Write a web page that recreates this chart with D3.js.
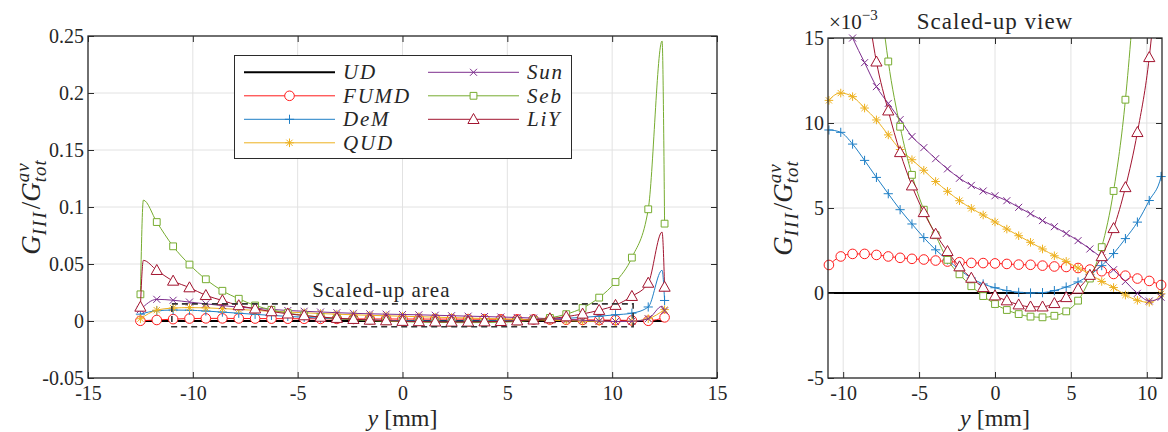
<!DOCTYPE html>
<html>
<head>
<meta charset="utf-8">
<script src="https://cdn.jsdelivr.net/npm/d3@7"></script>
<style>
  body { margin: 0; background: #fff; }
</style>
</head>
<body>
<svg id="chart" width="1168" height="432"></svg>
<script>
// Sample positions along the width, y [mm]
const yPos = [-12.5, -11.72, -10.94, -10.16, -9.38, -8.59, -7.81, -7.03, -6.25, -5.47, -4.69,
  -3.91, -3.13, -2.34, -1.56, -0.78, 0, 0.78, 1.56, 2.34, 3.13, 3.91, 4.69, 5.47, 6.25,
  7.03, 7.81, 8.59, 9.38, 10.16, 10.94, 11.72, 12.5];
// Positions of the narrow edge spikes (line only, no marker)
const edgePos = [-12.36, 12.38];

// G_III / G_tot^av, in units of 1e-3
const udVals = [0, 0, 0, 0, 0, 0, 0, 0, 0, 0, 0, 0, 0, 0, 0, 0, 0, 0, 0, 0, 0, 0, 0, 0, 0, 0, 0, 0, 0, 0, 0, 0, 0];
const fumdVals = [0.2, 0.9, 1.65, 2.15, 2.30, 2.30, 2.24, 2.15, 2.07, 2.01, 1.97, 1.91, 1.85, 1.81, 1.77, 1.76,
  1.74, 1.71, 1.67, 1.66, 1.61, 1.56, 1.53, 1.47, 1.38, 1.28, 1.12, 1.02, 0.85, 0.71, 0.47, 0.2, 3.2];
const demVals = [6.0, 9.0, 9.59, 9.45, 8.76, 7.80, 6.80, 5.84, 4.90, 4.06, 3.26, 2.54, 1.95, 1.37, 0.88, 0.53,
  0.31, 0.14, 0.04, 0.0, 0.02, 0.14, 0.35, 0.65, 1.07, 1.61, 2.32, 3.2, 4.17, 5.44, 6.85, 12.3, 18.0];
const qudVals = [2.0, 9.5, 11.33, 11.76, 11.55, 10.88, 10.18, 9.30, 8.44, 7.84, 7.22, 6.56, 5.98, 5.43, 4.98, 4.59,
  4.18, 3.76, 3.37, 2.98, 2.59, 2.19, 1.86, 1.47, 1.12, 0.68, 0.32, -0.12, -0.43, -0.55, -0.05, 2.0, 10.0];
const sunVals = [10.0, 19.0, 18.2, 16.6, 15.0, 13.55, 12.14, 11.15, 10.2, 9.2, 8.55, 7.9, 7.3, 6.75, 6.33, 6.0,
  5.72, 5.43, 5.04, 4.66, 4.26, 3.9, 3.5, 3.08, 2.59, 2.06, 1.37, 0.68, -0.02, -0.47, -0.25, 2.0, 9.0];
const sebVals = [23.4, 86.8, 65.5, 49.5, 36.6, 26.5, 19.5, 13.62, 9.78, 6.95, 4.9, 3.4, 1.95, 1.1, 0.4, -0.18,
  -0.65, -1.0, -1.24, -1.39, -1.43, -1.34, -1.08, -0.45, 0.85, 2.7, 6.0, 11.37, 20.5, 34.2, 55.6, 98.0, 85.4];
const liyVals = [12.3, 44.5, 35.1, 29.3, 22.5, 18.0, 13.6, 10.72, 8.27, 6.31, 4.74, 3.47, 2.45, 1.55, 0.88, 0.33,
  -0.16, -0.45, -0.69, -0.81, -0.81, -0.61, -0.26, 0.24, 1.05, 2.15, 3.8, 6.21, 9.45, 13.86, 21.7, 33.3, 29.8];

// Spike heights at edgePos (null = no spike)
const demEdge = [null, 44.5];
const sunEdge = [null, 13.0];
const sebEdge = [106.0, 245.6];
const liyEdge = [53.2, 78.0];
const noEdge = [null, null];

const seriesNames = ["UD", "FUMD", "DeM", "QUD", "Sun", "Seb", "LiY"];
const seriesVals = [udVals, fumdVals, demVals, qudVals, sunVals, sebVals, liyVals];
const seriesEdge = [noEdge, noEdge, demEdge, noEdge, sunEdge, sebEdge, liyEdge];
const seriesColors = ["#000000", "#ff1a1a", "#1f7fc6", "#edb120", "#7e2f8e", "#77ac30", "#a2142f"];
const seriesMarkers = ["none", "circle", "plus", "asterisk", "times", "square", "triangle"];

// Axis ticks
const leftXTicks = [-15, -10, -5, 0, 5, 10, 15];
const leftXLabels = ["-15", "-10", "-5", "0", "5", "10", "15"];
const leftYTicks = [-50, 0, 50, 100, 150, 200, 250];
const leftYLabels = ["-0.05", "0", "0.05", "0.1", "0.15", "0.2", "0.25"];
const rightXTicks = [-10, -5, 0, 5, 10];
const rightXLabels = ["-10", "-5", "0", "5", "10"];
const rightYTicks = [-5, 0, 5, 10, 15];
const rightYLabels = ["-5", "0", "5", "10", "15"];

const FONT = "'Liberation Serif', 'Times New Roman', serif";
const svg = d3.select("#chart");
const ink = "#2b2b2b";
const gridCol = "#e2e2e2";

function markerPath(type) {
  switch (type) {
    case "circle": return "M4.8,0A4.8,4.8 0 1,1 -4.8,0A4.8,4.8 0 1,1 4.8,0Z";
    case "plus": return "M-4.6,0H4.6M0,-4.6V4.6";
    case "asterisk": return "M-4.3,0H4.3M0,-4.3V4.3M-3.1,-3.1L3.1,3.1M-3.1,3.1L3.1,-3.1";
    case "times": return "M-3.5,-3.5L3.5,3.5M-3.5,3.5L3.5,-3.5";
    case "square": return "M-3.4,-3.4H3.4V3.4H-3.4Z";
    case "triangle": return "M0,-5.8L5.6,4.2H-5.6Z";
  }
  return "";
}
function markerFill(type) {
  return (type === "circle" || type === "square" || type === "triangle") ? "#fff" : "none";
}

function styleAxis(sel, fs) {
  sel.select(".domain").remove();
  sel.selectAll(".tick line").attr("stroke", ink).attr("stroke-width", 1);
  sel.selectAll(".tick text").attr("font-size", fs).attr("fill", ink);
  sel.attr("font-family", null).attr("font-size", null);
}

function drawPanel(cfg) {
  const g = svg.append("g");
  const x = d3.scaleLinear().domain(cfg.xDomain).range([cfg.left, cfg.right]);
  const y = d3.scaleLinear().domain(cfg.yDomain).range([cfg.bottom, cfg.top]);

  // grid
  const grid = g.append("g");
  grid.selectAll("line.gx").data(cfg.xTicks).join("line")
    .attr("x1", d => x(d)).attr("x2", d => x(d))
    .attr("y1", cfg.top).attr("y2", cfg.bottom)
    .attr("stroke", gridCol).attr("stroke-width", 1);
  grid.selectAll("line.gy").data(cfg.yTicks).join("line")
    .attr("y1", d => y(d)).attr("y2", d => y(d))
    .attr("x1", cfg.left).attr("x2", cfg.right)
    .attr("stroke", gridCol).attr("stroke-width", 1);

  // data
  const clipId = "clip-" + cfg.id;
  svg.append("clipPath").attr("id", clipId).append("rect")
    .attr("x", cfg.left).attr("y", cfg.top)
    .attr("width", cfg.right - cfg.left).attr("height", cfg.bottom - cfg.top);

  const line = d3.line().x(d => x(d[0])).y(d => y(d[1])).curve(d3.curveMonotoneX);
  const xd = x.domain(), yd = y.domain();

  seriesVals.forEach((vals, k) => {
    const pts = yPos.map((p, i) => [p, vals[i]]);
    seriesEdge[k].forEach((v, j) => { if (v !== null) pts.push([edgePos[j], v]); });
    pts.sort((a, b) => a[0] - b[0]);
    g.append("path")
      .attr("d", line(pts))
      .attr("fill", "none")
      .attr("stroke", seriesColors[k])
      .attr("stroke-width", k === 0 ? 2 : 1)
      .attr("clip-path", `url(#${clipId})`);

    if (seriesMarkers[k] !== "none") {
      const mk = yPos.map((p, i) => [p, vals[i]])
        .filter(d => d[0] >= xd[0] && d[0] <= xd[1] && d[1] >= yd[0] && d[1] <= yd[1]);
      g.append("g").selectAll("path").data(mk).join("path")
        .attr("transform", d => `translate(${x(d[0])},${y(d[1])})`)
        .attr("d", markerPath(seriesMarkers[k]))
        .attr("fill", markerFill(seriesMarkers[k]))
        .attr("stroke", seriesColors[k])
        .attr("stroke-width", 1);
    }
  });

  // axes with inward ticks on all four sides
  const fs = 20;
  const bottom = g.append("g").attr("transform", `translate(0,${cfg.bottom})`)
    .call(d3.axisBottom(x).tickValues(cfg.xTicks).tickSize(-6).tickSizeOuter(0).tickPadding(8)
      .tickFormat((d, i) => cfg.xLabels[i]));
  styleAxis(bottom, fs);
  const leftAx = g.append("g").attr("transform", `translate(${cfg.left},0)`)
    .call(d3.axisLeft(y).tickValues(cfg.yTicks).tickSize(-6).tickSizeOuter(0).tickPadding(4)
      .tickFormat((d, i) => cfg.yLabels[i]));
  styleAxis(leftAx, fs);
  const topAx = g.append("g").attr("transform", `translate(0,${cfg.top})`)
    .call(d3.axisTop(x).tickValues(cfg.xTicks).tickSize(-6).tickSizeOuter(0).tickFormat(() => ""));
  styleAxis(topAx, fs);
  const rightAx = g.append("g").attr("transform", `translate(${cfg.right},0)`)
    .call(d3.axisRight(y).tickValues(cfg.yTicks).tickSize(-6).tickSizeOuter(0).tickFormat(() => ""));
  styleAxis(rightAx, fs);

  g.append("rect")
    .attr("x", cfg.left).attr("y", cfg.top)
    .attr("width", cfg.right - cfg.left).attr("height", cfg.bottom - cfg.top)
    .attr("fill", "none").attr("stroke", ink).attr("stroke-width", 1.3);

  // x label: y [mm]
  const xl = g.append("text")
    .attr("x", (cfg.left + cfg.right) / 2).attr("y", 426)
    .attr("text-anchor", "middle").attr("font-size", 24);
  xl.append("tspan").attr("font-style", "italic").text("y");
  xl.append("tspan").text(" [mm]");

  // y label: G_III / G_tot^av
  const yl = g.append("g").attr("transform", `translate(${cfg.yLabelX},${(cfg.top + cfg.bottom) / 2}) rotate(-90)`);
  const L = 27;
  const t = yl.append("text").attr("text-anchor", "middle").attr("font-size", L).style("font-family", FONT);
  t.append("tspan").attr("font-style", "italic").text("G");
  t.append("tspan").attr("font-style", "italic").attr("font-size", L * 0.7).attr("dy", L * 0.22).attr("letter-spacing", 2).text("III");
  t.append("tspan").attr("dy", -L * 0.22).attr("dx", 1).text("/");
  t.append("tspan").attr("font-style", "italic").text("G");
  const sup = t.append("tspan").attr("font-style", "italic").attr("font-size", L * 0.7).attr("dy", -L * 0.42).attr("letter-spacing", 1).text("av");
  t.selectAll("tspan").style("font-family", FONT);
  const supW = sup.node().getComputedTextLength();
  t.append("tspan").attr("font-style", "italic").attr("font-size", L * 0.7).attr("letter-spacing", 1)
    .style("font-family", FONT)
    .attr("dx", -supW).attr("dy", L * 0.42 + L * 0.24).text("tot");

  return { x, y, g };
}

// Full-width panel
const left = drawPanel({
  id: "full", left: 88, right: 717, top: 36, bottom: 378,
  xDomain: [-15, 15], yDomain: [-50, 250],
  xTicks: leftXTicks, xLabels: leftXLabels, yTicks: leftYTicks, yLabels: leftYLabels,
  yLabelX: 40
});

// Scaled-up panel
const rightDomX = [-11, 11];
const rightDomY = [-5, 15];
const right = drawPanel({
  id: "zoom", left: 828, right: 1162, top: 38, bottom: 378,
  xDomain: rightDomX, yDomain: rightDomY,
  xTicks: rightXTicks, xLabels: rightXLabels, yTicks: rightYTicks, yLabels: rightYLabels,
  yLabelX: 792
});

// Dashed outline of the scaled-up region on the full panel
left.g.append("rect")
  .attr("x", left.x(rightDomX[0])).attr("y", left.y(rightDomY[1]))
  .attr("width", left.x(rightDomX[1]) - left.x(rightDomX[0]))
  .attr("height", left.y(rightDomY[0]) - left.y(rightDomY[1]))
  .attr("fill", "none").attr("stroke", "#333").attr("stroke-width", 1.6)
  .attr("stroke-dasharray", "6,4");
left.g.append("text")
  .attr("x", left.x(-4.3)).attr("y", left.y(21))
  .attr("font-size", 21).attr("letter-spacing", 1).text("Scaled-up area");

// Title and exponent of the scaled-up panel
svg.append("text").attr("x", 995).attr("y", 29).attr("text-anchor", "middle")
  .attr("font-size", 23).attr("letter-spacing", 1).text("Scaled-up view");
const ex = svg.append("text").attr("x", 829).attr("y", 29).attr("font-size", 21);
ex.append("tspan").text("×10");
ex.append("tspan").attr("font-size", 15).attr("dy", -9).text("−3");

// Legend
const leg = svg.append("g");
leg.append("rect").attr("x", 234.5).attr("y", 55.5).attr("width", 337).attr("height", 103)
  .attr("fill", "#fff").attr("stroke", ink).attr("stroke-width", 1);
seriesNames.forEach((name, k) => {
  const col = k < 4 ? 0 : 1;
  const row = k < 4 ? k : k - 4;
  const x0 = col ? 428 : 244, x1 = col ? 519 : 335;
  const cy = 72.3 + row * 23.5;
  leg.append("line").attr("x1", x0).attr("x2", x1).attr("y1", cy).attr("y2", cy)
    .attr("stroke", seriesColors[k]).attr("stroke-width", k === 0 ? 2 : 1);
  if (seriesMarkers[k] !== "none") {
    leg.append("path").attr("transform", `translate(${(x0 + x1) / 2},${cy})`)
      .attr("d", markerPath(seriesMarkers[k]))
      .attr("fill", markerFill(seriesMarkers[k]))
      .attr("stroke", seriesColors[k]).attr("stroke-width", 1);
  }
  leg.append("text").attr("x", col ? 527 : 343).attr("y", cy + 7)
    .attr("font-size", 21).attr("font-style", "italic").attr("letter-spacing", 1.8).text(name);
});

// Serif face for every label
svg.selectAll("text, tspan").style("font-family", FONT).style("fill", "#262626");
</script>
</body>
</html>
